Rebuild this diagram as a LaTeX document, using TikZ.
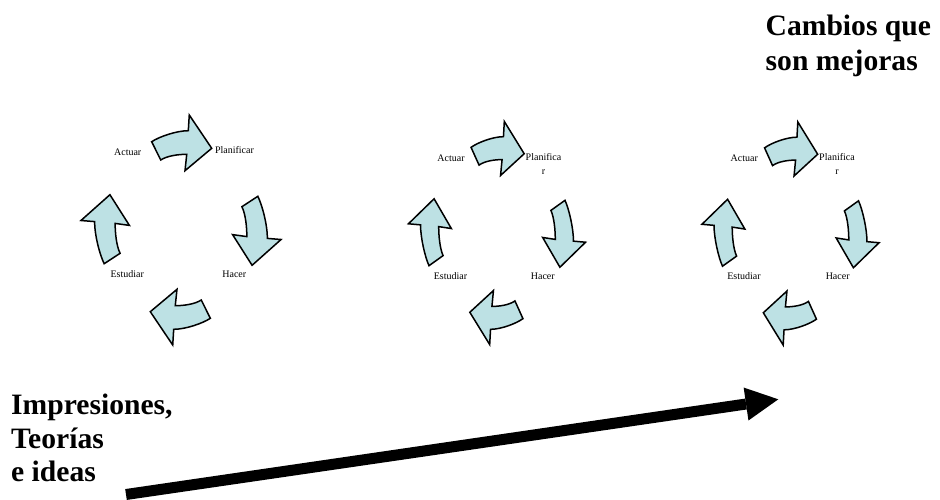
\documentclass[tikz,border=0pt]{standalone}
\usepackage{fontspec}
\setmainfont{Liberation Serif}
\usetikzlibrary{arrows.meta}
\definecolor{cycfill}{RGB}{189,225,228}
\tikzset{
  cyc/.style={draw=black, fill=cycfill, line width=1.5pt, line join=miter},
  cyclabel/.style={font=\fontsize{10}{14}\selectfont, inner sep=0pt, align=center, anchor=base},
  bigtext/.style={font=\bfseries, inner sep=0pt, align=left, anchor=base west},
  bigarrow/.style={line width=11pt, -{Triangle[length=32.6pt,width=33.3pt,line width=0pt]}}
}
\newcommand{\cycarrow}[1]{%
  \begin{scope}[rotate=#1]
    \draw[cyc] (-33.7,-88.3) .. controls (-24.6,-93.5) and (-5,-99.3) .. (8.4,-99.3)
      -- (9.5,-115) -- (35.3,-81.7) -- (4.6,-59.3) -- (6.6,-75.7)
      .. controls (-3,-75.7) and (-16,-74.2) .. (-23.3,-70) -- cycle;
  \end{scope}}
\begin{document}
\begin{tikzpicture}[x=1pt,y=-1pt]
\useasboundingbox (0,0) rectangle (940,499);

% cycle 1
\begin{scope}[shift={(181,230)}, xscale=0.87, yscale=1]
  \cycarrow{0}
  \cycarrow{-90}
  \cycarrow{180}
  \cycarrow{90}
\end{scope}
\node[cyclabel] (act1) at (127.7,155) {Actuar};
\node[cyclabel] (plan1) at (234.5,153.5) {Planificar};
\node[cyclabel] (hac1) at (234.3,277) {Hacer};
\node[cyclabel] (est1) at (127.3,277) {Estudiar};

% cycle 2
\begin{scope}[shift={(497,233)}, xscale=0.77, yscale=0.97]
  \cycarrow{0}
  \cycarrow{-90}
  \cycarrow{180}
  \cycarrow{90}
\end{scope}
\node[cyclabel] (act2) at (451,161.8) {Actuar};
\node[cyclabel] (plan2) at (543.5,174) {Planifica\\r};
\node[cyclabel] (hac2) at (542.8,279) {Hacer};
\node[cyclabel] (est2) at (450.5,279) {Estudiar};

% cycle 3
\begin{scope}[shift={(790.5,233.5)}, xscale=0.77, yscale=0.97]
  \cycarrow{0}
  \cycarrow{-90}
  \cycarrow{180}
  \cycarrow{90}
\end{scope}
\node[cyclabel] (act3) at (744.3,161.8) {Actuar};
\node[cyclabel] (plan3) at (837,174) {Planifica\\r};
\node[cyclabel] (hac3) at (837.7,279) {Hacer};
\node[cyclabel] (est3) at (744,279) {Estudiar};

% texts
\node[bigtext, font=\fontsize{29.6}{33.4}\selectfont\bfseries] (ideas) at (11,481.7) {Impresiones,\\Teorías\\e ideas};
\node[bigtext, font=\fontsize{29.6}{35}\selectfont\bfseries] (mejoras) at (765.5,70) {Cambios que\\son mejoras};

% big arrow
\coordinate (bigtail) at (126,494.5);
\coordinate (bigtip) at (778.3,399.3);
\draw[bigarrow] (bigtail) -- (bigtip);
\end{tikzpicture}
\end{document}
